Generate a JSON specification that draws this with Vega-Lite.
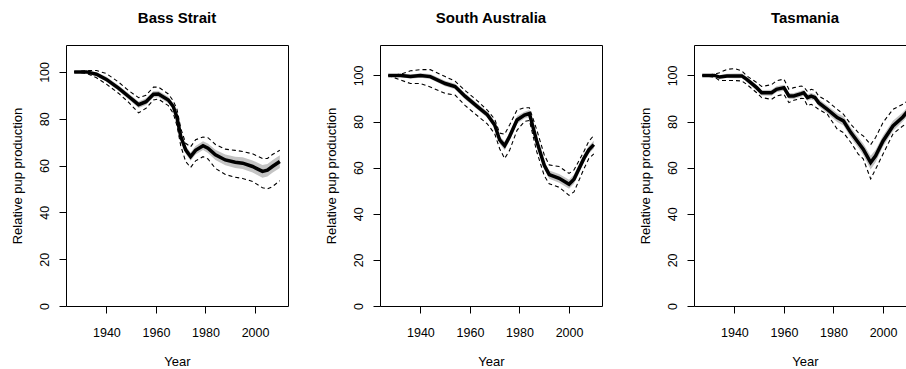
{
  "$schema": "https://vega.github.io/schema/vega-lite/v6.json",
  "padding": {"left": 10, "top": 10, "right": 0, "bottom": 0},
  "spacing": 92,
  "bounds": "flush",
  "background": "white",
  "config": {
    "view": {"stroke": "black", "strokeWidth": 1},
    "font": "Liberation Sans",
    "axis": {"domain": false, "grid": false, "tickColor": "black", "tickWidth": 1, "tickSize": 7, "labelFontSize": 12.5, "labelColor": "black", "labelFont": "Liberation Sans", "titleFont": "Liberation Sans", "titleFontSize": 13, "titleFontWeight": "normal", "titleColor": "black", "labelOverlap": false},
    "axisX": {"labelPadding": 13, "titlePadding": 17},
    "axisY": {"labelAngle": -90, "labelAlign": "center", "labelBaseline": "bottom", "labelPadding": 8, "titlePadding": 14},
    "title": {"fontSize": 15, "fontWeight": "bold", "font": "Liberation Sans", "color": "black", "offset": 19, "anchor": "middle"}
  },
  "data": {"values": [
    {"region": "Bass Strait", "year": 1927, "est": 100, "lcl": 100, "ucl": 100, "lo": 99.8, "hi": 100.2},
    {"region": "Bass Strait", "year": 1932, "est": 100, "lcl": 99.4, "ucl": 100.6, "lo": 99.5, "hi": 100.5},
    {"region": "Bass Strait", "year": 1936, "est": 99, "lcl": 97.5, "ucl": 100.6, "lo": 98.2, "hi": 99.8},
    {"region": "Bass Strait", "year": 1940, "est": 96.8, "lcl": 94.8, "ucl": 99.3, "lo": 95.8, "hi": 97.9},
    {"region": "Bass Strait", "year": 1945, "est": 93, "lcl": 90.8, "ucl": 95.6, "lo": 91.8, "hi": 94.2},
    {"region": "Bass Strait", "year": 1949, "est": 89.5, "lcl": 87, "ucl": 92, "lo": 88.2, "hi": 90.8},
    {"region": "Bass Strait", "year": 1953, "est": 86, "lcl": 82.5, "ucl": 89, "lo": 84.6, "hi": 87.4},
    {"region": "Bass Strait", "year": 1956, "est": 87.3, "lcl": 84.5, "ucl": 90, "lo": 85.9, "hi": 88.7},
    {"region": "Bass Strait", "year": 1959, "est": 90.5, "lcl": 88, "ucl": 93.5, "lo": 89.1, "hi": 91.9},
    {"region": "Bass Strait", "year": 1961, "est": 90.6, "lcl": 88.4, "ucl": 93.5, "lo": 89.2, "hi": 92},
    {"region": "Bass Strait", "year": 1965, "est": 88, "lcl": 85.6, "ucl": 90.6, "lo": 86.6, "hi": 89.4},
    {"region": "Bass Strait", "year": 1967, "est": 85.2, "lcl": 82.3, "ucl": 87.6, "lo": 83.8, "hi": 86.6},
    {"region": "Bass Strait", "year": 1968.5, "est": 80.5, "lcl": 77, "ucl": 84, "lo": 78.9, "hi": 82.1},
    {"region": "Bass Strait", "year": 1970, "est": 72.5, "lcl": 68.5, "ucl": 76, "lo": 70.7, "hi": 74.3},
    {"region": "Bass Strait", "year": 1972, "est": 66.7, "lcl": 61.7, "ucl": 69.5, "lo": 65, "hi": 68.4},
    {"region": "Bass Strait", "year": 1974, "est": 63.8, "lcl": 59.2, "ucl": 68, "lo": 62, "hi": 65.6},
    {"region": "Bass Strait", "year": 1976, "est": 66.5, "lcl": 62, "ucl": 71, "lo": 64.7, "hi": 68.3},
    {"region": "Bass Strait", "year": 1979, "est": 68.5, "lcl": 63.8, "ucl": 72.2, "lo": 66.6, "hi": 70.4},
    {"region": "Bass Strait", "year": 1981, "est": 67.4, "lcl": 62.8, "ucl": 71.9, "lo": 65.4, "hi": 69.4},
    {"region": "Bass Strait", "year": 1984, "est": 64.6, "lcl": 58.8, "ucl": 69, "lo": 62.4, "hi": 66.8},
    {"region": "Bass Strait", "year": 1988, "est": 62.4, "lcl": 56.2, "ucl": 67, "lo": 60.1, "hi": 64.7},
    {"region": "Bass Strait", "year": 1992, "est": 61.4, "lcl": 55, "ucl": 66.5, "lo": 59, "hi": 63.8},
    {"region": "Bass Strait", "year": 1995, "est": 61, "lcl": 54.5, "ucl": 66, "lo": 58.5, "hi": 63.5},
    {"region": "Bass Strait", "year": 1999, "est": 59.6, "lcl": 53.2, "ucl": 65, "lo": 57, "hi": 62.2},
    {"region": "Bass Strait", "year": 2003, "est": 57.5, "lcl": 50.5, "ucl": 63, "lo": 54.8, "hi": 60.2},
    {"region": "Bass Strait", "year": 2005, "est": 58, "lcl": 50, "ucl": 63, "lo": 55.3, "hi": 60.7},
    {"region": "Bass Strait", "year": 2007, "est": 59.6, "lcl": 51, "ucl": 64.7, "lo": 56.9, "hi": 62.3},
    {"region": "Bass Strait", "year": 2010, "est": 61.7, "lcl": 53.5, "ucl": 66.5, "lo": 59, "hi": 64.4},
    {"region": "South Australia", "year": 1927, "est": 100, "lcl": 100, "ucl": 100, "lo": 99.8, "hi": 100.2},
    {"region": "South Australia", "year": 1932, "est": 100, "lcl": 98, "ucl": 100.5, "lo": 99.3, "hi": 100.7},
    {"region": "South Australia", "year": 1936, "est": 99.5, "lcl": 96.5, "ucl": 102, "lo": 98.6, "hi": 100.4},
    {"region": "South Australia", "year": 1940, "est": 100, "lcl": 96.5, "ucl": 102.5, "lo": 99, "hi": 101},
    {"region": "South Australia", "year": 1944, "est": 99.5, "lcl": 95, "ucl": 102.5, "lo": 98.4, "hi": 100.6},
    {"region": "South Australia", "year": 1950, "est": 96.5, "lcl": 92.2, "ucl": 99.5, "lo": 95.3, "hi": 97.7},
    {"region": "South Australia", "year": 1954, "est": 95.2, "lcl": 91.5, "ucl": 97.5, "lo": 94, "hi": 96.4},
    {"region": "South Australia", "year": 1958, "est": 91, "lcl": 87, "ucl": 93.5, "lo": 89.7, "hi": 92.3},
    {"region": "South Australia", "year": 1963, "est": 86.5, "lcl": 82.5, "ucl": 89, "lo": 85.2, "hi": 87.8},
    {"region": "South Australia", "year": 1967, "est": 83, "lcl": 79, "ucl": 85, "lo": 81.6, "hi": 84.4},
    {"region": "South Australia", "year": 1970, "est": 78.5, "lcl": 74.7, "ucl": 81, "lo": 77, "hi": 80},
    {"region": "South Australia", "year": 1972, "est": 72, "lcl": 68.2, "ucl": 75, "lo": 70.4, "hi": 73.6},
    {"region": "South Australia", "year": 1974, "est": 69.5, "lcl": 64, "ucl": 74.5, "lo": 67.6, "hi": 71.4},
    {"region": "South Australia", "year": 1976, "est": 73.5, "lcl": 67.5, "ucl": 78.5, "lo": 71.6, "hi": 75.4},
    {"region": "South Australia", "year": 1979, "est": 80.7, "lcl": 76.2, "ucl": 85, "lo": 79, "hi": 82.4},
    {"region": "South Australia", "year": 1982, "est": 82.8, "lcl": 80, "ucl": 86, "lo": 81.3, "hi": 84.3},
    {"region": "South Australia", "year": 1984, "est": 83.5, "lcl": 80.5, "ucl": 86, "lo": 82, "hi": 85},
    {"region": "South Australia", "year": 1987, "est": 71.3, "lcl": 66.8, "ucl": 76.3, "lo": 69.5, "hi": 73.1},
    {"region": "South Australia", "year": 1990, "est": 61, "lcl": 56.5, "ucl": 65.5, "lo": 59.2, "hi": 62.8},
    {"region": "South Australia", "year": 1992, "est": 57, "lcl": 53, "ucl": 61.2, "lo": 55.2, "hi": 58.8},
    {"region": "South Australia", "year": 1996, "est": 55.4, "lcl": 51.5, "ucl": 60.5, "lo": 53.5, "hi": 57.3},
    {"region": "South Australia", "year": 2000, "est": 52.8, "lcl": 48, "ucl": 57.5, "lo": 50.8, "hi": 54.8},
    {"region": "South Australia", "year": 2002, "est": 55, "lcl": 49.5, "ucl": 59, "lo": 53, "hi": 57},
    {"region": "South Australia", "year": 2006, "est": 64, "lcl": 59.5, "ucl": 67, "lo": 62.2, "hi": 65.8},
    {"region": "South Australia", "year": 2008, "est": 67.7, "lcl": 64, "ucl": 71.5, "lo": 66, "hi": 69.4},
    {"region": "South Australia", "year": 2010, "est": 70, "lcl": 66, "ucl": 74, "lo": 68.3, "hi": 71.7},
    {"region": "Tasmania", "year": 1927, "est": 100, "lcl": 100, "ucl": 100, "lo": 99.8, "hi": 100.2},
    {"region": "Tasmania", "year": 1932, "est": 100, "lcl": 99.3, "ucl": 100.5, "lo": 99.4, "hi": 100.6},
    {"region": "Tasmania", "year": 1934, "est": 99.3, "lcl": 97.8, "ucl": 101.2, "lo": 98.5, "hi": 100.1},
    {"region": "Tasmania", "year": 1937, "est": 99.8, "lcl": 97.8, "ucl": 102.6, "lo": 98.9, "hi": 100.7},
    {"region": "Tasmania", "year": 1940, "est": 99.8, "lcl": 97.8, "ucl": 103, "lo": 98.8, "hi": 100.8},
    {"region": "Tasmania", "year": 1943, "est": 99.8, "lcl": 97.6, "ucl": 102, "lo": 98.8, "hi": 100.8},
    {"region": "Tasmania", "year": 1945, "est": 98.3, "lcl": 96.1, "ucl": 99.8, "lo": 97.2, "hi": 99.4},
    {"region": "Tasmania", "year": 1949, "est": 94.7, "lcl": 92.5, "ucl": 96.9, "lo": 93.5, "hi": 95.9},
    {"region": "Tasmania", "year": 1951, "est": 92.5, "lcl": 90.4, "ucl": 95.2, "lo": 91.3, "hi": 93.7},
    {"region": "Tasmania", "year": 1955, "est": 92.5, "lcl": 89.6, "ucl": 96, "lo": 91.2, "hi": 93.8},
    {"region": "Tasmania", "year": 1957, "est": 94, "lcl": 91.1, "ucl": 97.7, "lo": 92.7, "hi": 95.3},
    {"region": "Tasmania", "year": 1960, "est": 94.7, "lcl": 91.8, "ucl": 98.4, "lo": 93.4, "hi": 96},
    {"region": "Tasmania", "year": 1962, "est": 91.1, "lcl": 88.2, "ucl": 94, "lo": 89.8, "hi": 92.4},
    {"region": "Tasmania", "year": 1964, "est": 91.1, "lcl": 89.2, "ucl": 94.7, "lo": 89.8, "hi": 92.4},
    {"region": "Tasmania", "year": 1967, "est": 92.1, "lcl": 90.1, "ucl": 95.4, "lo": 90.8, "hi": 93.4},
    {"region": "Tasmania", "year": 1968, "est": 92.5, "lcl": 90, "ucl": 95, "lo": 91.2, "hi": 93.8},
    {"region": "Tasmania", "year": 1969.5, "est": 90.4, "lcl": 86.8, "ucl": 93, "lo": 89, "hi": 91.8},
    {"region": "Tasmania", "year": 1971, "est": 91, "lcl": 87.5, "ucl": 94, "lo": 89.6, "hi": 92.4},
    {"region": "Tasmania", "year": 1972.5, "est": 90.4, "lcl": 86.5, "ucl": 93.5, "lo": 89, "hi": 91.8},
    {"region": "Tasmania", "year": 1974, "est": 88.2, "lcl": 85.3, "ucl": 91.1, "lo": 86.6, "hi": 89.8},
    {"region": "Tasmania", "year": 1977.5, "est": 85.3, "lcl": 83.2, "ucl": 88.9, "lo": 83.6, "hi": 87},
    {"region": "Tasmania", "year": 1981.5, "est": 81.7, "lcl": 76.7, "ucl": 85.3, "lo": 79.8, "hi": 83.6},
    {"region": "Tasmania", "year": 1984, "est": 80.3, "lcl": 75.2, "ucl": 83.2, "lo": 78.3, "hi": 82.3},
    {"region": "Tasmania", "year": 1987, "est": 75.2, "lcl": 70.9, "ucl": 78.8, "lo": 73, "hi": 77.4},
    {"region": "Tasmania", "year": 1990, "est": 70.9, "lcl": 65.9, "ucl": 75.2, "lo": 68.6, "hi": 73.2},
    {"region": "Tasmania", "year": 1992, "est": 68, "lcl": 63.8, "ucl": 73.8, "lo": 65.5, "hi": 70.5},
    {"region": "Tasmania", "year": 1995, "est": 62.2, "lcl": 55.1, "ucl": 70, "lo": 59.2, "hi": 65.2},
    {"region": "Tasmania", "year": 1997, "est": 65.1, "lcl": 59.4, "ucl": 73.1, "lo": 62.4, "hi": 67.8},
    {"region": "Tasmania", "year": 2000, "est": 71.6, "lcl": 65.9, "ucl": 79.6, "lo": 69.2, "hi": 74},
    {"region": "Tasmania", "year": 2004, "est": 78.1, "lcl": 74.6, "ucl": 85.3, "lo": 75.9, "hi": 80.3},
    {"region": "Tasmania", "year": 2008, "est": 82, "lcl": 78.1, "ucl": 87.5, "lo": 80, "hi": 84},
    {"region": "Tasmania", "year": 2010, "est": 84.5, "lcl": 79.5, "ucl": 89, "lo": 82.5, "hi": 86.5}
  ]},
  "hconcat": [
    {
      "title": "Bass Strait",
      "width": 222, "height": 261,
      "transform": [{"filter": "datum.region === 'Bass Strait'"}],
      "encoding": {"x": {"field": "year", "type": "quantitative", "scale": {"domain": [1923.7, 2013.3], "nice": false, "zero": false}, "axis": {"title": "Year", "values": [1940, 1960, 1980, 2000], "format": "d"}}},
      "layer": [
        {"mark": {"type": "area", "color": "#c4c4c4"}, "encoding": {"y": {"field": "lo", "type": "quantitative", "scale": {"domain": [0, 111.5], "nice": false, "zero": false}, "axis": {"title": "Relative pup production", "values": [0, 20, 40, 60, 80, 100]}}, "y2": {"field": "hi"}}},
        {"mark": {"type": "line", "color": "black", "strokeWidth": 1.1, "strokeDash": [4, 3]}, "encoding": {"y": {"field": "ucl", "type": "quantitative", "axis": {"title": "Relative pup production", "values": [0, 20, 40, 60, 80, 100]}}}},
        {"mark": {"type": "line", "color": "black", "strokeWidth": 1.1, "strokeDash": [4, 3]}, "encoding": {"y": {"field": "lcl", "type": "quantitative", "axis": {"title": "Relative pup production", "values": [0, 20, 40, 60, 80, 100]}}}},
        {"mark": {"type": "line", "color": "black", "strokeWidth": 3.5}, "encoding": {"y": {"field": "est", "type": "quantitative", "axis": {"title": "Relative pup production", "values": [0, 20, 40, 60, 80, 100]}}}}
      ]
    },
    {
      "title": "South Australia",
      "width": 222, "height": 261,
      "transform": [{"filter": "datum.region === 'South Australia'"}],
      "encoding": {"x": {"field": "year", "type": "quantitative", "scale": {"domain": [1923.7, 2013.3], "nice": false, "zero": false}, "axis": {"title": "Year", "values": [1940, 1960, 1980, 2000], "format": "d"}}},
      "layer": [
        {"mark": {"type": "area", "color": "#c4c4c4"}, "encoding": {"y": {"field": "lo", "type": "quantitative", "scale": {"domain": [0, 113.2], "nice": false, "zero": false}, "axis": {"title": "Relative pup production", "values": [0, 20, 40, 60, 80, 100]}}, "y2": {"field": "hi"}}},
        {"mark": {"type": "line", "color": "black", "strokeWidth": 1.1, "strokeDash": [4, 3]}, "encoding": {"y": {"field": "ucl", "type": "quantitative", "axis": {"title": "Relative pup production", "values": [0, 20, 40, 60, 80, 100]}}}},
        {"mark": {"type": "line", "color": "black", "strokeWidth": 1.1, "strokeDash": [4, 3]}, "encoding": {"y": {"field": "lcl", "type": "quantitative", "axis": {"title": "Relative pup production", "values": [0, 20, 40, 60, 80, 100]}}}},
        {"mark": {"type": "line", "color": "black", "strokeWidth": 3.5}, "encoding": {"y": {"field": "est", "type": "quantitative", "axis": {"title": "Relative pup production", "values": [0, 20, 40, 60, 80, 100]}}}}
      ]
    },
    {
      "title": "Tasmania",
      "width": 222, "height": 261,
      "transform": [{"filter": "datum.region === 'Tasmania'"}],
      "encoding": {"x": {"field": "year", "type": "quantitative", "scale": {"domain": [1923.7, 2013.3], "nice": false, "zero": false}, "axis": {"title": "Year", "values": [1940, 1960, 1980, 2000], "format": "d"}}},
      "layer": [
        {"mark": {"type": "area", "color": "#c4c4c4"}, "encoding": {"y": {"field": "lo", "type": "quantitative", "scale": {"domain": [0, 113.2], "nice": false, "zero": false}, "axis": {"title": "Relative pup production", "values": [0, 20, 40, 60, 80, 100]}}, "y2": {"field": "hi"}}},
        {"mark": {"type": "line", "color": "black", "strokeWidth": 1.1, "strokeDash": [4, 3]}, "encoding": {"y": {"field": "ucl", "type": "quantitative", "axis": {"title": "Relative pup production", "values": [0, 20, 40, 60, 80, 100]}}}},
        {"mark": {"type": "line", "color": "black", "strokeWidth": 1.1, "strokeDash": [4, 3]}, "encoding": {"y": {"field": "lcl", "type": "quantitative", "axis": {"title": "Relative pup production", "values": [0, 20, 40, 60, 80, 100]}}}},
        {"mark": {"type": "line", "color": "black", "strokeWidth": 3.5}, "encoding": {"y": {"field": "est", "type": "quantitative", "axis": {"title": "Relative pup production", "values": [0, 20, 40, 60, 80, 100]}}}}
      ]
    }
  ]
}
